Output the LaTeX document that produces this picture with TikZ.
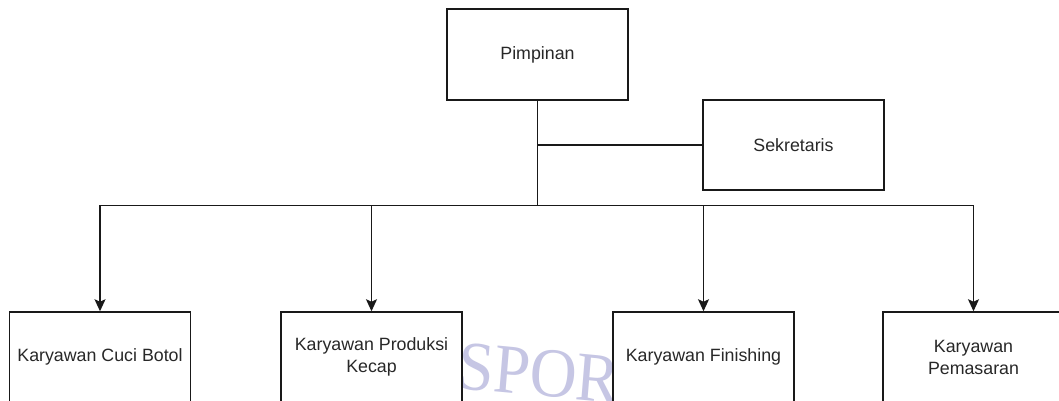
\documentclass[tikz,border=0pt]{standalone}
\usepackage{fontspec}
\setmainfont{Liberation Sans}
\newfontfamily\wmfont{Liberation Serif}
\usetikzlibrary{arrows.meta}
\definecolor{linec}{RGB}{25,25,25}
\definecolor{textc}{RGB}{40,40,40}
\definecolor{wmc}{RGB}{198,198,228}
\tikzset{
  box/.style={draw=linec, line width=1.5pt, fill=white, minimum width=181pt, minimum height=90pt,
    inner sep=0pt, align=center, text=textc, font=\fontsize{17.8}{22}\selectfont},
  conn/.style={draw=linec, line width=1.5pt},
  arr/.style={conn, -{Stealth[length=12pt,width=11pt,inset=2.5pt]}}
}
\begin{document}
\begin{tikzpicture}[x=1pt,y=-1pt]
\useasboundingbox[fill=white] (0,0) rectangle (1059,401);
% watermark (behind boxes)
\node[text=wmc, font=\wmfont\fontsize{70}{70}\selectfont, xscale=0.93, rotate=-5, inner sep=0pt] (wm) at (539,373) {SPOR};
\node[box, minimum height=91pt] (pim) at (537.5,54.5) {Pimpinan};
\node[box] (sek) at (793.5,145) {Sekretaris};
\node[box] (b1) at (100,357) {Karyawan Cuci Botol};
\node[box] (b2) at (371.5,357) {Karyawan Produksi\\Kecap};
\node[box] (b3) at (703.5,357) {Karyawan Finishing};
\node[box] (b4) at (973.5,357) {Karyawan\\Pemasaran};
\coordinate (bus) at (537.5,205.7);
\draw[conn] (pim.south) -- (bus);
\draw[conn] (sek.west) -- (sek.west -| pim.south);
\draw[arr] (bus) -| (b1.north);
\draw[arr] (bus) -| (b2.north);
\draw[arr] (bus) -| (b3.north);
\draw[arr] (bus) -| (b4.north);
\end{tikzpicture}
\end{document}
